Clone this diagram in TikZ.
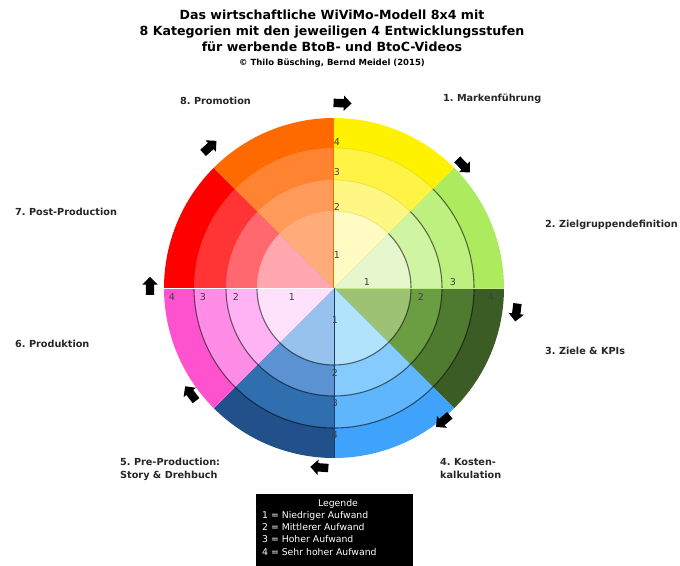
\documentclass[tikz,border=0pt]{standalone}
\usepackage{fontspec}
\setmainfont{DejaVu Sans}
\usetikzlibrary{shapes.arrows,positioning}

% Farben der 8 Kategorien (Stufe 1 = innen, Stufe 4 = aussen)
\definecolor{mark1}{HTML}{FFFBC2}\definecolor{mark2}{HTML}{FFF783}
\definecolor{mark3}{HTML}{FFF445}\definecolor{mark4}{HTML}{FFF200}
\definecolor{ziel1}{HTML}{E6F7CE}\definecolor{ziel2}{HTML}{CFF4A2}
\definecolor{ziel3}{HTML}{BDF07E}\definecolor{ziel4}{HTML}{ACEB5E}
\definecolor{kpi1}{HTML}{9DC274}\definecolor{kpi2}{HTML}{6B9E42}
\definecolor{kpi3}{HTML}{4E7B30}\definecolor{kpi4}{HTML}{3B5D25}
\definecolor{kost1}{HTML}{B2E3FD}\definecolor{kost2}{HTML}{86CBFD}
\definecolor{kost3}{HTML}{60B6FC}\definecolor{kost4}{HTML}{3FA3FC}
\definecolor{pre1}{HTML}{98C2EE}\definecolor{pre2}{HTML}{5A92D2}
\definecolor{pre3}{HTML}{2F6FB0}\definecolor{pre4}{HTML}{21508A}
\definecolor{prod1}{HTML}{FEE2FC}\definecolor{prod2}{HTML}{FFB3F5}
\definecolor{prod3}{HTML}{FF8DE6}\definecolor{prod4}{HTML}{FF52CF}
\definecolor{post1}{HTML}{FFA7AF}\definecolor{post2}{HTML}{FF686E}
\definecolor{post3}{HTML}{FF3535}\definecolor{post4}{HTML}{FF0000}
\definecolor{promo1}{HTML}{FFAC7A}\definecolor{promo2}{HTML}{FF9B5A}
\definecolor{promo3}{HTML}{FF8330}\definecolor{promo4}{HTML}{FF6A00}

\begin{document}
\frenchspacing
\begin{tikzpicture}[x=1pt,y=1pt,
  kat/.style={font=\fontsize{9.7}{13}\selectfont\bfseries,anchor=west,
              align=left,text=black!85,inner sep=0pt},
  stufe/.style={font=\fontsize{9.5}{9.5}\selectfont,text=black!75,inner sep=1pt},
  ringline/.style={draw=black,opacity=.55,line width=1.1pt},
  pfeil/.style={single arrow,fill=black,inner sep=4pt,minimum height=18pt,
                single arrow head extend=3.5pt},
  legtext/.style={font=\fontsize{9.3}{12.3}\selectfont,text=white,inner sep=0pt},
]
\useasboundingbox (-334,-277) rectangle (346,288);

% Title
\node[font=\fontsize{12.6}{16}\selectfont\bfseries,align=center] (titel) at (-2,257)
  {Das wirtschaftliche WiViMo-Modell 8x4 mit\\
   8 Kategorien mit den jeweiligen 4 Entwicklungsstufen\\
   f\"ur werbende BtoB- und BtoC-Videos};
\node[font=\fontsize{8.5}{9}\selectfont\bfseries] (copyright) at (-2,225)
  {\textcopyright{} Thilo B\"usching, Bernd Meidel (2015)};

% Wheel: 8 sectors with 4 rings each
\foreach \start/\kat in {45/mark,0/ziel,-45/kpi,-90/kost,-135/pre,180/prod,135/post,90/promo}
  \foreach \r/\stufe in {170/4,140/3,108/2,77/1}
    \fill[fill=\kat\stufe] (0,0) -- (\start:\r)
      arc[start angle=\start, end angle=\start+45, radius=\r pt] -- cycle;

% Ring borders
\foreach \r in {77,108,140}
  \draw[ringline] (45:\r) arc[start angle=45, end angle=-180, radius=\r pt];
\foreach \r in {77,108,140}
  \draw[draw=mark4!70!black,opacity=.25,line width=.8pt]
    (90:\r) arc[start angle=90, end angle=45, radius=\r pt];
\draw[white,line width=1pt] (-170,0) -- (0,0);
\draw[ziel3,line width=1pt] (0,0) -- (170,0);
\draw[promo4,line width=1pt] (0,0) -- (0,170);
\draw[pre4!80!black,line width=.8pt] (0,0) -- (0,-170);

% Level numbers on the axes
\foreach \d/\y in {1/33,2/81,3/116,4/146}
  \node[stufe] (oben\d) at (3,\y) {\d};
\foreach \d/\x/\y in {1/33/6,2/87/-9,3/119/6,4/157/-9}
  \node[stufe] (rechts\d) at (\x,\y) {\d};
\foreach \d/\x in {1/-42,2/-98,3/-131,4/-162}
  \node[stufe] (links\d) at (\x,-9) {\d};
\foreach \d/\y in {1/-32,2/-85,3/-115,4/-147}
  \node[stufe] (unten\d) at (1,\y) {\d};

% Arrows (clockwise)
\foreach \w/\r [count=\i] in {88/185,44/178,-7/184,-50/172,-94/180,-143/178,180/184,132/188}
  \node[pfeil,rotate=\w-90] (pfeil\i) at (\w:\r) {};

% Category labels
\node[kat] (k1) at (109,189) {1. Markenf\"uhrung};
\node[kat] (k2) at (211,63) {2. Zielgruppendefinition};
\node[kat] (k3) at (211,-63) {3. Ziele \& KPIs};
\node[kat] (k4) at (106,-181) {4. Kosten-\\kalkulation};
\node[kat] (k5) at (-214,-181) {5. Pre-Production:\\Story \& Drehbuch};
\node[kat] (k6) at (-319,-56) {6. Produktion};
\node[kat] (k7) at (-319,76) {7. Post-Production};
\node[kat] (k8) at (-154,187) {8. Promotion};

% Legend
\node[fill=black,minimum width=157pt,minimum height=72pt,inner sep=0pt,
      anchor=north west] (legende) at (-78,-206) {};
\node[legtext] (legkopf) at (4,-216) {Legende};
\node[legtext,anchor=north west,align=left] (legliste) at (-72,-223)
  {1 = Niedriger Aufwand\\2 = Mittlerer Aufwand\\3 = Hoher Aufwand\\4 = Sehr hoher Aufwand};

\end{tikzpicture}
\end{document}
